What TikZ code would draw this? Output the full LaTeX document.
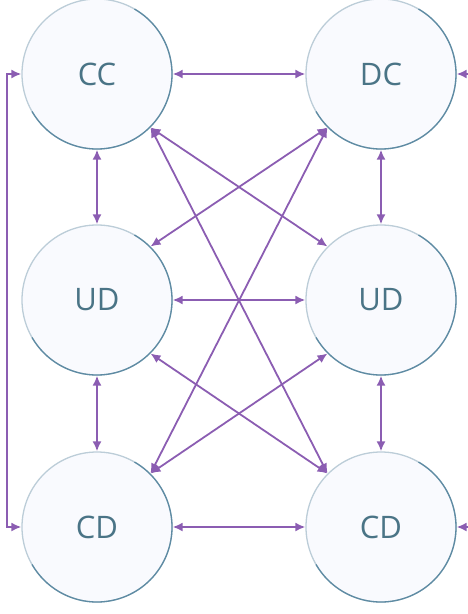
\documentclass[tikz,border=0pt]{standalone}
\usepackage{fontspec}
\setmainfont{Open Sans}
\usetikzlibrary{arrows.meta,calc}
\definecolor{arr}{HTML}{8B5DB2}
\definecolor{rimlight}{HTML}{BCCDD8}
\definecolor{rimdark}{HTML}{5E8BA3}
\definecolor{cfill}{HTML}{F9FAFE}
\definecolor{txt}{HTML}{4A7486}
\tikzset{
  state/.style={circle, draw=rimlight, line width=1.3pt, fill=cfill, minimum size=150pt, inner sep=0pt, font=\fontsize{31}{31}\selectfont, text=txt},
  link/.style={draw=arr, line width=1.8pt, {Latex[length=10pt,width=9pt]}-{Latex[length=10pt,width=9pt]}},
  inlink/.style={draw=arr, line width=1.8pt, -{Latex[length=10pt,width=9pt]}}
}
\begin{document}
\begin{tikzpicture}[x=1pt,y=-1pt]
\useasboundingbox (0,0) rectangle (467,614);
\node[state] (CC) at (97,74) {CC};
\node[state] (DC) at (381,74) {DC};
\node[state] (UDL) at (97,300) {UD};
\node[state] (UDR) at (381,300) {UD};
\node[state] (CDL) at (97,527) {CD};
\node[state] (CDR) at (381,527) {CD};
% darker rim on lower right
\foreach \n in {CC,DC,UDL,UDR,CDL,CDR}{
  \draw[rimdark, line width=1.3pt] ($(\n.center)+(-60:75)$) arc[start angle=-60, end angle=150, radius=75];
}
% grid links
\draw[link] (CC) -- (DC);
\draw[link] (UDL) -- (UDR);
\draw[link] (CDL) -- (CDR);
\draw[link] (CC) -- (UDL);
\draw[link] (UDL) -- (CDL);
\draw[link] (DC) -- (UDR);
\draw[link] (UDR) -- (CDR);
% diagonals
\draw[link] (CC.south east) -- (UDR.north west);
\draw[link] (CC.south east) -- (CDR.north west);
\draw[link] (DC.south west) -- (UDL.north east);
\draw[link] (DC.south west) -- (CDL.north east);
\draw[link] (UDL.south east) -- (CDR.north west);
\draw[link] (UDR.south west) -- (CDL.north east);
% left loop
\draw[link] (CC.west) -- ++(-14,0) |- (CDL.west);
% right stubs
\coordinate (r1) at (475,74);
\coordinate (r2) at (475,527);
\draw[inlink] (r1) -- (DC.east);
\draw[inlink] (r2) -- (CDR.east);
\end{tikzpicture}
\end{document}
